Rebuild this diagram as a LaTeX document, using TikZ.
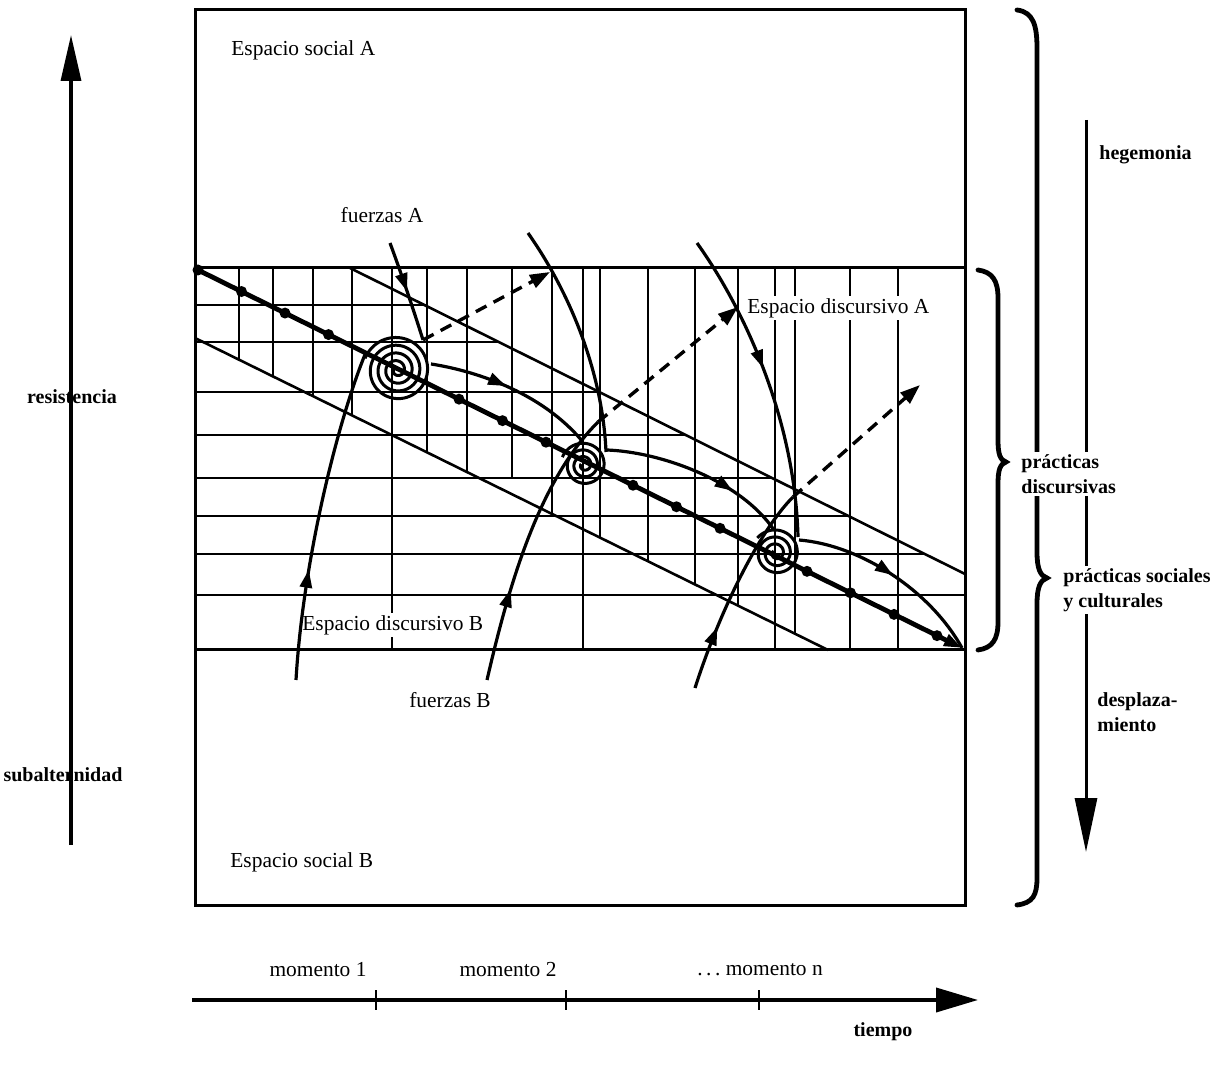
\documentclass[tikz,border=0pt]{standalone}
\usepackage{fontspec}
\setmainfont{Liberation Serif}
\usetikzlibrary{arrows.meta,decorations.markings}
\begin{document}
\begin{tikzpicture}[x=0.5pt,y=-0.5pt,
  gridline/.style={line width=1.3pt},
  frame/.style={line width=1.5pt},
  traj/.style={line width=2.4pt},
  curve/.style={line width=1.6pt},
  dashedarrow/.style={line width=1.7pt, dash pattern=on 6pt off 4pt, -{Triangle[length=10pt,width=7pt]}},
  midarrow/.style={postaction={decorate}, decoration={markings, mark=at position #1 with {\arrow{Triangle[length=9pt,width=6pt]}}}},
  dotmark/.style={circle, fill, inner sep=0pt, minimum size=5.5pt},
  lbl/.style={font=\fontsize{10.7}{12}\selectfont, inner sep=1pt},
  blbl/.style={font=\fontsize{10}{12.5}\selectfont\bfseries, align=left, inner sep=0pt},
  spiral/.style={line width=1.5pt},
  brace/.style={line width=2.4pt, line cap=round},
]
\useasboundingbox (0,0) rectangle (1220,1068);
\fill[white] (0,0) rectangle (1220,1068);

% frame
\draw[frame] (195,10) rectangle (965,905);
\draw[frame] (195,268) -- (965,268);
\draw[frame] (195,650) -- (965,650);

% grid
\foreach \y/\xe in {305/424,342/499,392/599,435/686,478/772,516/848,554/925,595/965}
  \draw[gridline] (195,\y) -- (\xe,\y);
\foreach \x/\ye in {239/360,273/376,313/396,352/415,392/650,427/452,467/472,512/478,552/514,583/650,600/538,648/561,695/585,738/606,775/650,795/634,850/650,898/650}
  \draw[gridline] (\x,268) -- (\x,\ye);
\draw[gridline] (350,268) -- (965,574);
\draw[gridline] (195,338) -- (828,650);

% labels in grid
\node[lbl, fill=white, anchor=west] (edA) at (745,308) {Espacio discursivo A};
\node[lbl, fill=white, anchor=west] (edB) at (300,625) {Espacio discursivo B};

% trajectory
\coordinate (t0) at (198,270);
\coordinate (t1) at (962,648);
\draw[traj, -{Triangle[length=9pt,width=6pt]}] (t0) -- (t1);
\foreach \x in {198,241.5,285,328.5,459,502.5,546,633,676.5,720,807,850.5,894,937}
  \node[dotmark] at ({\x},{270+0.4948*(\x-198)}) {};

% spirals
\draw[spiral] plot[domain=200:1640, samples=300, smooth] ({397+(34-((\x-200)/1440)*31)*cos(\x)}, {370+(34-((\x-200)/1440)*31)*sin(\x)});
\draw[spiral] plot[domain=200:1280, samples=220, smooth] ({584+(23-((\x-200)/1080)*20)*cos(\x)}, {465+(23-((\x-200)/1080)*20)*sin(\x)});
\draw[spiral] plot[domain=219:1299, samples=220, smooth] ({776+(24-((\x-219)/1080)*21)*cos(\x)}, {553+(24-((\x-219)/1080)*21)*sin(\x)});

% named points
\coordinate (a1s) at (390,243);  \coordinate (a1e) at (423,340);
\coordinate (a2s) at (528,233);  \coordinate (a2e) at (606,452);
\coordinate (a3s) at (697,243);  \coordinate (a3e) at (798,537);
\coordinate (b1s) at (296,680);  \coordinate (b1e) at (366,352);
\coordinate (b2s) at (487,680);  \coordinate (b2e) at (598,422);
\coordinate (b3s) at (695,688);  \coordinate (b3e) at (793,497);
\coordinate (d1e) at (550,272);
\coordinate (d2e) at (738,307);
\coordinate (d3e) at (920,385);
\coordinate (s1s) at (431,364);  \coordinate (s1e) at (583,442);
\coordinate (s2s) at (607,450);  \coordinate (s2e) at (774,530);
\coordinate (s3s) at (799,540);

% forces A
\draw[curve, midarrow=0.5] (a1s) .. controls (400,270) and (412,305) .. (a1e);
\draw[curve] (a2s) .. controls (575,300) and (603,380) .. (a2e);
\draw[curve, midarrow=0.45] (a3s) .. controls (745,310) and (795,420) .. (a3e);
% forces B
\draw[curve, midarrow=0.33] (b1s) .. controls (303,560) and (338,420) .. (b1e);
\draw[curve, midarrow=0.33] (b2s) .. controls (510,580) and (540,480) .. (b2e);
\draw[curve, midarrow=0.3] (b3s) .. controls (720,610) and (760,530) .. (b3e);
% dashed displacements
\draw[dashedarrow] (a1e) -- (d1e);
\draw[dashedarrow] (b2e) -- (d2e);
\draw[dashedarrow] (b3e) -- (d3e);
% flows along the trajectory
\draw[curve, midarrow=0.45] (s1s) .. controls (470,370) and (540,390) .. (s1e);
\draw[curve, midarrow=0.7] (s2s) .. controls (660,452) and (740,480) .. (s2e);
\draw[curve, midarrow=0.5] (s3s) .. controls (860,545) and (930,590) .. (t1);

% text labels
\node[lbl, anchor=west] (esA) at (229,50) {Espacio social A};
\node[lbl, anchor=west] (esB) at (228,862) {Espacio social B};
\node[lbl] (fA) at (382,215) {fuerzas A};
\node[lbl] (fB) at (450,700) {fuerzas B};

% left axis
\coordinate (la0) at (71,845);
\coordinate (la1) at (71,35);
\draw[line width=1.7pt, -{Triangle[length=23pt,width=10pt]}] (la0) -- (la1);
\node[blbl] (res) at (72,397) {resistencia};
\node[blbl] (sub) at (63,775) {subalternidad};

% right axis
\coordinate (ra0) at (1086,120);
\coordinate (ra1) at (1086,852);
\draw[line width=1.5pt, -{Triangle[length=27pt,width=11pt]}] (ra0) -- (ra1);

% braces
\draw[brace] (1017,10) .. controls (1033,12) and (1037,25) .. (1037,48) -- (1037,552)
  .. controls (1037,568) and (1040,576) .. (1047,578)
  .. controls (1040,580) and (1037,588) .. (1037,604) -- (1037,878)
  .. controls (1037,895) and (1033,903) .. (1017,905);
\draw[brace] (978,270) .. controls (992,272) and (998,280) .. (998,298) -- (998,440)
  .. controls (998,454) and (1000,460) .. (1006,462)
  .. controls (1000,464) and (998,470) .. (998,484) -- (998,622)
  .. controls (998,640) and (992,648) .. (978,650);

% right labels
\node[blbl, anchor=west, fill=white] (heg) at (1099,155) {hegemonia};
\node[blbl, anchor=west, fill=white, inner sep=1pt] (pd) at (1019,474) {prácticas\\discursivas};
\node[blbl, anchor=west, fill=white, inner sep=1pt] (psc) at (1061,590) {prácticas sociales\\y culturales};
\node[blbl, anchor=west, fill=white] (des) at (1097,712) {desplaza-\\miento};

% time axis
\coordinate (ta0) at (192,1000);
\coordinate (ta1) at (978,1000);
\draw[line width=1.9pt, -{Triangle[length=21pt,width=12pt]}] (ta0) -- (ta1);
\foreach \x in {376,566,759}
  \draw[line width=1.3pt] (\x,990) -- (\x,1010);
\node[lbl] (m1) at (318,970) {momento 1};
\node[lbl] (m2) at (508,970) {momento 2};
\node[lbl] (mn) at (760,970) {.\,.\,.\ momento n};
\node[blbl] (tiempo) at (883,1032) {tiempo};
\end{tikzpicture}
\end{document}
